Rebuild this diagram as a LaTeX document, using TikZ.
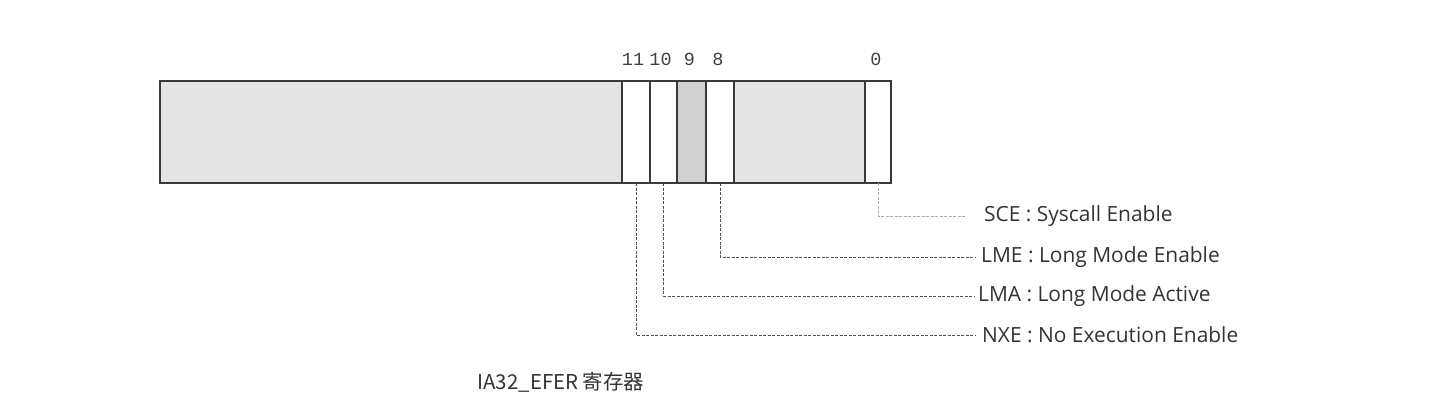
\documentclass[tikz,border=0pt]{standalone}
\usepackage{fontspec}
\usepackage{tikz}
\usetikzlibrary{positioning}
\newfontfamily\labelfont{Open Sans}
\newfontfamily\bitfont{Liberation Mono}
\newfontfamily\cjkfont{Noto Sans CJK SC}
\definecolor{myBorder}{RGB}{58,58,58}
\definecolor{myShade}{RGB}{228,228,228}
\definecolor{myDark}{RGB}{208,208,208}
\definecolor{myLine}{RGB}{80,80,80}
\definecolor{myFaint}{RGB}{170,170,170}

\begin{document}
\begin{tikzpicture}[%
	x=1bp, y=-1bp,
	cellbox/.style={
		draw=myBorder, line width=1.6bp,
		inner sep=0pt, outer sep=0pt,
		minimum height=102bp,
	},
	bitnum/.style={
		font=\bitfont\fontsize{18.5}{21}\selectfont,
		text=black!75, anchor=base,
	},
	fieldname/.style={
		font=\labelfont\fontsize{21}{24}\selectfont,
		text=black!80, anchor=west, inner sep=0pt,
	},
	conn/.style={
		draw=myLine, line width=0.9bp,
		dash pattern=on 3bp off 1.5bp,
	},
	]
	\useasboundingbox (0,0) rectangle (1456,408);
	
	% draw register cells
	\foreach \name/\xa/\xb/\shade in {hi/160/622/myShade, b11/622/650/white,
		b10/650/677/white, b9/677/706/myDark, b8/706/734/white,
		mid/734/865/myShade, b0/865/891/white}{
		\node[cellbox, fill=\shade, minimum width={(\xb-\xa)*1bp}]
			(\name) at ({(\xa+\xb)/2},132) {};
	}
	
	% place bit numbers
	\node[bitnum] (n11) at ([xshift=-3bp,yshift=16bp]b11.north) {11};
	\node[bitnum] (n10) at ([xshift=-3bp,yshift=16bp]b10.north) {10};
	\node[bitnum] (n9) at ([xshift=-2bp,yshift=16bp]b9.north) {9};
	\node[bitnum] (n8) at ([xshift=-2bp,yshift=16bp]b8.north) {8};
	\node[bitnum] (n0) at ([xshift=-2bp,yshift=16bp]b0.north) {0};
	
	% place field names
	\node[fieldname] (sce) at (984,216) {SCE : Syscall Enable};
	\node[fieldname] (lme) at (981,257) {LME : Long Mode Enable};
	\node[fieldname] (lma) at (978,296) {LMA : Long Mode Active};
	\node[fieldname] (nxe) at (982,335) {NXE : No Execution Enable};
	
	% draw connectors
	\draw[conn, draw=myFaint, shorten >=18bp] (b0.south) |- (sce.west);
	\draw[conn, shorten >=6bp] (b8.south) |- (lme.west);
	\draw[conn, shorten >=4bp] (b10.south) |- (lma.west);
	\draw[conn, shorten >=7bp] (b11.south) |- (nxe.west);
	
	% caption
	\node[font=\cjkfont\fontsize{20.5}{24}\selectfont, text=black!80, anchor=west]
		(caption) at (474,382) {IA32\_EFER 寄存器};
\end{tikzpicture}
\end{document}
